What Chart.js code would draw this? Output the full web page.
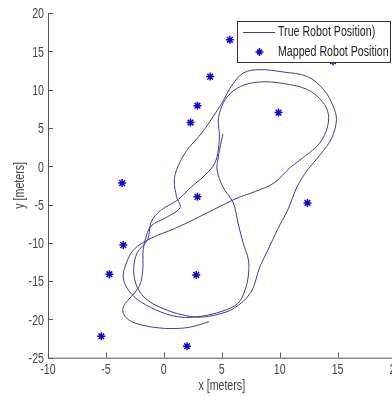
<!DOCTYPE html>
<html>
<head>
<meta charset="utf-8">
<title>Robot path</title>
<script src="https://cdn.jsdelivr.net/npm/chart.js@4"></script>
<style>
  html, body { margin: 0; padding: 0; background: #fff; overflow: hidden; }
  #wrap { width: 410px; height: 396px; }
</style>
</head>
<body>
<div id="wrap"><canvas id="robot-chart" width="410" height="396"></canvas></div>
<script>
// true robot path in meters
const pathX = [5.1, 4.9, 4.7, 4.6, 5.1, 6.0, 6.4, 6.9, 7.3, 7.3, 7.0, 6.4, 5.1, 3.2, 1.4, -0.3, -2.0, -3.0, -3.5, -3.3,
  -2.6, -1.1, 1.0, 3.2, 5.3, 6.6, 7.9, 9.5, 10.9, 12.6, 13.5, 14.1, 14.2, 13.7, 12.4, 10.3, 8.3, 6.6, 5.5, 4.9,
  4.7, 4.8, 4.7, 4.4, 3.6, 2.3, 1.2, -0.3, -1.1, -1.4, -2.3, -2.6, -2.3, -1.4, 0.3, 1.9, 3.2, 4.5, 6.0, 7.5,
  8.3, 9.0, 9.8, 10.7, 11.5, 12.4, 13.5, 14.5, 14.9, 14.6, 13.8, 12.4, 10.3, 8.3, 6.9, 5.9, 5.0, 4.0, 3.2, 2.0,
  1.2, 0.9, 1.1, 1.4, 0.2, -1.1, -1.6, -1.8, -1.8, -2.0, -2.5, -3.1, -3.5, -3.5, -3.0, -2.0, -0.5, 0.8, 2.3, 3.9];
const pathY = [4.2, 2.8, 1.2, -0.5, -2.7, -4.8, -7.4, -10.3, -12.2, -14.2, -16.2, -17.9, -18.9, -19.6, -19.7, -19.0, -17.7, -16.3, -14.6, -12.9,
  -10.9, -9.4, -8.1, -6.5, -4.9, -4.0, -3.3, -2.2, -0.2, 1.8, 3.1, 5.0, 6.8, 8.4, 10.0, 10.8, 11.0, 10.4, 9.1, 7.4,
  5.8, 4.1, 2.1, 0.4, -1.1, -2.8, -4.4, -5.8, -7.3, -9.6, -11.3, -13.5, -15.8, -17.5, -18.8, -19.5, -19.7, -19.4, -18.6, -16.5,
  -13.1, -10.9, -8.3, -5.7, -2.7, -0.5, 1.5, 3.7, 6.1, 7.9, 10.0, 11.7, 12.3, 12.6, 12.2, 10.6, 8.2, 5.9, 4.2, 2.1,
  -0.1, -1.8, -4.0, -5.4, -6.7, -7.8, -9.6, -11.3, -13.1, -15.2, -16.5, -17.5, -18.4, -19.2, -20.1, -20.7, -21.1, -21.2, -21.0, -20.3];

// mapped robot positions (stars)
const mappedX = [5.7, 4.0, 2.9, 2.3, 9.9, 14.6, -3.6, 2.9, -3.5, -4.7, 2.8, -5.4, 2.0, 12.4];
const mappedY = [16.5, 11.7, 7.9, 5.7, 7.0, 13.7, -2.2, -4.0, -10.3, -14.1, -14.2, -22.2, -23.5, -4.8];

const seriesNames = ["True Robot Position)", "Mapped Robot Position"];
const axisTitles = ["x [meters]", "y [meters]"];
const xRange = [-10, 20];
const yRange = [-25, 20];

const lineColor = "#3d3d90";
const starColor = "#0a0acc";
const axisColor = "#555555";
const textColor = "#444444";
const fontFamily = "'Liberation Sans', Arial, sans-serif";
// the original uses a condensed Helvetica, squeeze the text horizontally
const squeeze = 0.76;

function narrowText(ctx, text, x, y, align, baseline, rotate) {
  ctx.save();
  ctx.translate(x, y);
  if (rotate) ctx.rotate(-Math.PI / 2);
  ctx.scale(squeeze, 1);
  ctx.textAlign = align;
  ctx.textBaseline = baseline;
  ctx.fillText(text, 0, 0);
  ctx.restore();
}

// MATLAB style axes: left and bottom lines with inward ticks, labels and titles
const axesPlugin = {
  id: "matlabAxes",
  afterDatasetsDraw(chart) {
    const { ctx, chartArea: a, scales: { x, y } } = chart;
    ctx.save();
    ctx.strokeStyle = axisColor;
    ctx.lineWidth = 1;
    ctx.beginPath();
    ctx.moveTo(a.left + 0.5, a.top);
    ctx.lineTo(a.left + 0.5, a.bottom + 0.5);
    ctx.lineTo(a.right, a.bottom + 0.5);
    x.ticks.forEach((t) => {
      const px = Math.round(x.getPixelForValue(t.value)) + 0.5;
      ctx.moveTo(px, a.bottom);
      ctx.lineTo(px, a.bottom - 5);
    });
    y.ticks.forEach((t) => {
      const py = Math.round(y.getPixelForValue(t.value)) + 0.5;
      ctx.moveTo(a.left, py);
      ctx.lineTo(a.left + 5, py);
    });
    ctx.stroke();

    ctx.fillStyle = textColor;
    ctx.font = "14px " + fontFamily;
    x.ticks.forEach((t) => {
      narrowText(ctx, t.label, x.getPixelForValue(t.value), a.bottom + 16.3, "center", "alphabetic");
    });
    y.ticks.forEach((t) => {
      narrowText(ctx, t.label, a.left - 4, y.getPixelForValue(t.value) + 5.3, "right", "alphabetic");
    });
    narrowText(ctx, axisTitles[0], (a.left + a.right) / 2, 386.5, "center", "middle");
    narrowText(ctx, axisTitles[1], 20, (a.top + a.bottom) / 2, "center", "middle", true);
    ctx.restore();
  },
};

function drawStar(ctx, cx, cy, r) {
  ctx.beginPath();
  ctx.moveTo(cx - r, cy); ctx.lineTo(cx + r, cy);
  ctx.moveTo(cx, cy - r); ctx.lineTo(cx, cy + r);
  const d = r * 0.6;
  ctx.moveTo(cx - d, cy - d); ctx.lineTo(cx + d, cy + d);
  ctx.moveTo(cx - d, cy + d); ctx.lineTo(cx + d, cy - d);
  ctx.stroke();
}

// boxed legend in the top right corner
const legendPlugin = {
  id: "boxLegend",
  afterDraw(chart) {
    const ctx = chart.ctx;
    const ds = chart.data.datasets;
    const bx = 237.5, by = 21.5, bw = 153, bh = 41;
    ctx.save();
    ctx.fillStyle = "#fff";
    ctx.fillRect(bx, by, bw, bh);
    ctx.strokeStyle = "#333";
    ctx.lineWidth = 1;
    ctx.strokeRect(bx, by, bw, bh);

    ctx.strokeStyle = ds[0].borderColor;
    ctx.beginPath();
    ctx.moveTo(243, 32.5);
    ctx.lineTo(275, 32.5);
    ctx.stroke();

    ctx.strokeStyle = ds[1].borderColor;
    ctx.lineWidth = 1.5;
    drawStar(ctx, 259.5, 52, 4);

    ctx.fillStyle = "#222";
    ctx.font = "14px " + fontFamily;
    narrowText(ctx, ds[0].label, 278, 32.5, "left", "middle");
    narrowText(ctx, ds[1].label, 278, 52, "left", "middle");
    ctx.restore();
  },
};

new Chart(document.getElementById("robot-chart"), {
  type: "scatter",
  data: {
    datasets: [
      {
        label: seriesNames[0],
        data: pathX.map((v, i) => ({ x: v, y: pathY[i] })),
        showLine: true,
        borderColor: lineColor,
        borderWidth: 1,
        pointRadius: 0,
        tension: 0.35,
        fill: false,
      },
      {
        label: seriesNames[1],
        data: mappedX.map((v, i) => ({ x: v, y: mappedY[i] })),
        showLine: false,
        pointStyle: "star",
        pointRadius: 4,
        borderColor: starColor,
        backgroundColor: starColor,
        borderWidth: 1.5,
      },
    ],
  },
  options: {
    responsive: false,
    animation: false,
    devicePixelRatio: 1,
    layout: { padding: { left: 0, top: 13, right: 14.5, bottom: 0 } },
    plugins: { legend: { display: false }, tooltip: { enabled: false } },
    scales: {
      x: {
        type: "linear",
        min: xRange[0],
        max: xRange[1],
        grid: { display: false, drawTicks: false },
        border: { display: false },
        ticks: { stepSize: 5, display: false },
        afterFit(s) { s.height = 38.3; s.paddingLeft = 0; s.paddingRight = 0; },
      },
      y: {
        type: "linear",
        min: yRange[0],
        max: yRange[1],
        grid: { display: false, drawTicks: false },
        border: { display: false },
        ticks: { stepSize: 5, display: false },
        afterFit(s) { s.width = 48; s.paddingTop = 0; s.paddingBottom = 0; },
      },
    },
  },
  plugins: [axesPlugin, legendPlugin],
});
</script>
</body>
</html>
